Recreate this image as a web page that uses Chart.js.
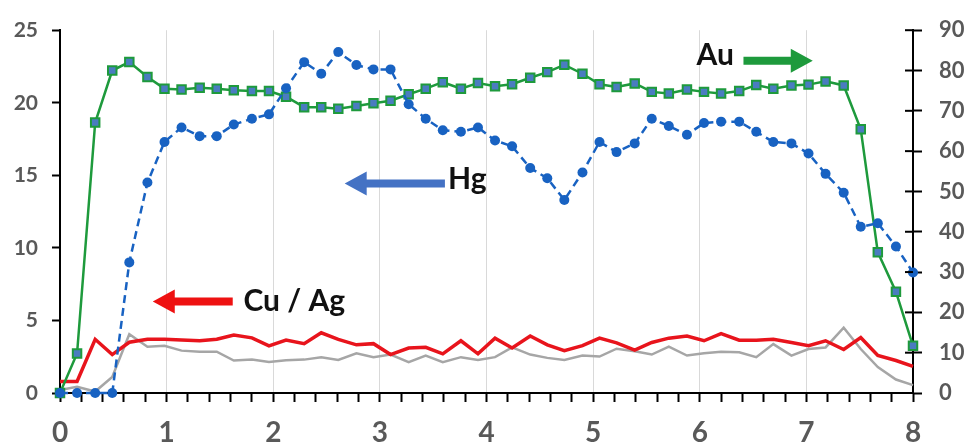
<!DOCTYPE html>
<html>
<head>
<meta charset="utf-8">
<script src="https://cdn.jsdelivr.net/npm/chart.js@4.4.1/dist/chart.umd.min.js"></script>
<style>
  html, body { margin: 0; padding: 0; background: #fff; }
  #wrap { width: 964px; height: 442px; }
</style>
</head>
<body>
<div id="wrap"><canvas id="chart"></canvas></div>
<script>
// distance along the profile (x axis)
const distance = [0, 0.16, 0.33, 0.49, 0.65, 0.82, 0.98, 1.14, 1.31, 1.47,
  1.63, 1.80, 1.96, 2.12, 2.29, 2.45, 2.61, 2.78, 2.94, 3.10,
  3.27, 3.43, 3.59, 3.76, 3.92, 4.08, 4.24, 4.41, 4.57, 4.73,
  4.90, 5.06, 5.22, 5.39, 5.55, 5.71, 5.88, 6.04, 6.20, 6.37,
  6.53, 6.69, 6.86, 7.02, 7.18, 7.35, 7.51, 7.67, 7.84, 8.00];

// Au, right axis (0-900)
const au = [0, 98, 671, 800, 821, 784, 755, 753, 757, 755,
  751, 749, 749, 735, 709, 709, 705, 712, 719, 725,
  741, 755, 771, 755, 769, 761, 766, 782, 796, 814,
  792, 766, 759, 768, 747, 743, 753, 747, 743, 749,
  764, 755, 763, 765, 773, 763, 654, 349, 251, 117];

// Hg, left axis (0-25)
const hg = [0, 0, 0, 0, 9.0, 14.5, 17.3, 18.3, 17.7, 17.7,
  18.5, 18.9, 19.2, 21.0, 22.8, 22.0, 23.5, 22.6, 22.3, 22.3,
  19.9, 18.9, 18.1, 18.0, 18.3, 17.4, 17.0, 15.5, 14.8, 13.3,
  15.2, 17.3, 16.6, 17.2, 18.9, 18.4, 17.8, 18.6, 18.7, 18.7,
  18.0, 17.3, 17.2, 16.5, 15.1, 13.8, 11.45, 11.7, 10.1, 8.3];

// Cu, left axis
const cu = [0.8, 0.8, 3.7, 2.65, 3.5, 3.7, 3.7, 3.65, 3.6, 3.7,
  4.0, 3.8, 3.25, 3.65, 3.4, 4.15, 3.7, 3.32, 3.4, 2.65,
  3.1, 3.15, 2.7, 3.6, 2.7, 3.78, 3.1, 3.93, 3.32, 2.92,
  3.26, 3.78, 3.45, 2.96, 3.48, 3.78, 3.93, 3.6, 4.09, 3.64,
  3.64, 3.7, 3.48, 3.26, 3.6, 3.0, 3.82, 2.58, 2.24, 1.83];

// Ag, left axis
const ag = [0.2, 0.43, 0.1, 1.1, 4.05, 3.19, 3.26, 2.92, 2.85, 2.85,
  2.24, 2.3, 2.13, 2.25, 2.3, 2.47, 2.28, 2.74, 2.47, 2.65,
  2.13, 2.58, 2.13, 2.47, 2.28, 2.47, 3.14, 2.65, 2.42, 2.28,
  2.58, 2.51, 3.05, 2.87, 2.65, 3.19, 2.58, 2.74, 2.85, 2.8,
  2.47, 3.37, 2.58, 3.03, 3.14, 4.5, 3.03, 1.79, 0.93, 0.54];

// text + arrow notes, in data units
const notes = [
  { text: 'Au', axis: 'y1', tx: 5.97, ty: 837, ax0: 6.41, ax1: 7.06, ay: 824, color: '#1e9a3c' },
  { text: 'Hg', axis: 'y', tx: 3.64, ty: 14.7, ax0: 3.61, ax1: 2.67, ay: 14.43, color: '#4472c4' },
  { text: 'Cu / Ag', axis: 'y', tx: 1.72, ty: 6.3, ax0: 1.62, ax1: 0.87, ay: 6.3, color: '#ee1111' }
];

const pts = arr => arr.map((v, i) => ({ x: distance[i], y: v }));
const isInt = v => Math.abs(v - Math.round(v)) < 1e-6;

Chart.defaults.font.family = 'Lato';

const notesPlugin = {
  id: 'notes',
  afterDatasetsDraw(chart) {
    const ctx = chart.ctx;
    const x = chart.scales.x;
    ctx.save();
    notes.forEach(n => {
      const ys = chart.scales[n.axis];
      // arrow
      const x0 = x.getPixelForValue(n.ax0), x1 = x.getPixelForValue(n.ax1);
      const y = ys.getPixelForValue(n.ay);
      const dir = x1 > x0 ? 1 : -1;
      const head = 22, half = 12, shaft = 4;
      ctx.fillStyle = n.color;
      ctx.beginPath();
      ctx.moveTo(x0, y - shaft);
      ctx.lineTo(x1 - dir * head, y - shaft);
      ctx.lineTo(x1 - dir * head, y - half);
      ctx.lineTo(x1, y);
      ctx.lineTo(x1 - dir * head, y + half);
      ctx.lineTo(x1 - dir * head, y + shaft);
      ctx.lineTo(x0, y + shaft);
      ctx.closePath();
      ctx.fill();
      // text
      ctx.fillStyle = '#111';
      ctx.font = 'bold 30px Lato';
      ctx.textAlign = 'left';
      ctx.textBaseline = 'middle';
      ctx.fillText(n.text, x.getPixelForValue(n.tx), ys.getPixelForValue(n.ty));
    });
    ctx.restore();
  }
};

// right axis ticks cross the axis line
const crossTicks = {
  id: 'crossTicks',
  afterDraw(chart) {
    const s = chart.scales.y1;
    const ctx = chart.ctx;
    ctx.save();
    ctx.strokeStyle = '#000';
    ctx.lineWidth = 2;
    s.ticks.forEach((t, i) => {
      const y = s.getPixelForTick(i);
      ctx.beginPath();
      ctx.moveTo(s.left - 8, y);
      ctx.lineTo(s.left, y);
      ctx.stroke();
    });
    ctx.restore();
  }
};

new Chart(document.getElementById('chart'), {
  type: 'line',
  data: {
    datasets: [
      {
        label: 'Hg', data: pts(hg), yAxisID: 'y',
        borderColor: '#1862c2', borderWidth: 2.5, borderDash: [8, 5],
        pointRadius: 5, pointBackgroundColor: '#1862c2', pointBorderWidth: 0,
        tension: 0, clip: false
      },
      {
        label: 'Au', data: pts(au), yAxisID: 'y1',
        borderColor: '#1e9a3c', borderWidth: 2.5,
        pointStyle: 'rect', pointRadius: 6, pointBackgroundColor: '#4a7cc0',
        pointBorderColor: '#1e9a3c', pointBorderWidth: 2,
        tension: 0, clip: false
      },
      {
        label: 'Cu', data: pts(cu), yAxisID: 'y',
        borderColor: '#e8141c', borderWidth: 3.5, pointRadius: 0,
        tension: 0, clip: false
      },
      {
        label: 'Ag', data: pts(ag), yAxisID: 'y',
        borderColor: '#a6a6a6', borderWidth: 2.5, pointRadius: 0,
        tension: 0, clip: false
      }
    ]
  },
  options: {
    responsive: true,
    maintainAspectRatio: false,
    animation: false,
    layout: { padding: { top: 24, left: 0, right: 0, bottom: 0 } },
    plugins: {
      legend: { display: false },
      tooltip: { enabled: false }
    },
    scales: {
      x: {
        type: 'linear', min: 0, max: 8,
        afterFit: s => { s.height = 49; },
        border: { color: '#000', width: 2 },
        grid: {
          color: c => (c.tick && isInt(c.tick.value) && c.tick.value > 0 && c.tick.value < 8) ? '#d9d9d9' : 'rgba(0,0,0,0)',
          tickColor: '#000', tickLength: 9, lineWidth: 1, tickWidth: 2
        },
        ticks: {
          stepSize: 0.2, autoSkip: false, maxRotation: 0, padding: 14,
          color: '#595959', font: { size: 28, weight: 'bold' },
          callback: v => isInt(v) ? String(Math.round(v)) : ''
        }
      },
      y: {
        position: 'left', min: 0, max: 25,
        afterFit: s => { s.width = 60; },
        border: { color: '#000', width: 2 },
        grid: { drawOnChartArea: false, tickColor: '#000', tickLength: 8, tickWidth: 2 },
        ticks: { stepSize: 5, padding: 14, color: '#595959', font: { size: 21, weight: 'bold' } }
      },
      y1: {
        position: 'right', min: 0, max: 900,
        afterFit: s => { s.width = 51; },
        border: { color: '#000', width: 2 },
        grid: { drawOnChartArea: false, tickColor: '#000', tickLength: 9, tickWidth: 2 },
        ticks: { stepSize: 100, padding: 17, color: '#595959', font: { size: 22, weight: 'bold' } }
      }
    }
  },
  plugins: [notesPlugin, crossTicks]
});
</script>
</body>
</html>
